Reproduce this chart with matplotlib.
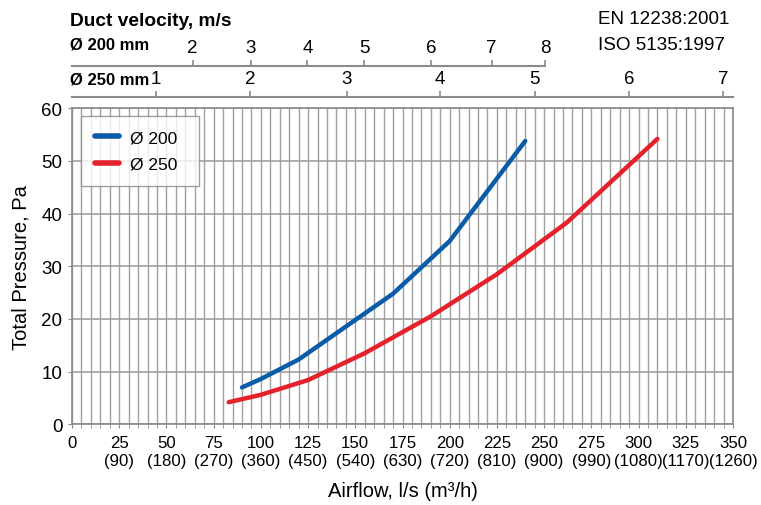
import matplotlib
matplotlib.use("Agg")
import matplotlib.pyplot as plt
from matplotlib.ticker import MultipleLocator

plt.rcParams['font.family'] = ['Liberation Sans', 'DejaVu Sans']

# Data (airflow l/s, total pressure Pa)
flow_200 = [90, 100, 120, 140, 170, 200, 240]
pres_200 = [7.0, 8.6, 12.3, 17.3, 24.8, 34.8, 53.8]
flow_250 = [83, 100, 125, 155, 190, 225, 262, 310]
pres_250 = [4.2, 5.6, 8.4, 13.5, 20.5, 28.5, 38.3, 54.2]

# bottom tick labels
x_ticks = [0, 25, 50, 75, 100, 125, 150, 175, 200, 225, 250, 275, 300, 325, 350]
m3h = [None, 90, 180, 270, 360, 450, 540, 630, 720, 810, 900, 990, 1080, 1170, 1260]

# duct velocity scales (position in l/s, label in m/s)
v200_pos = [63.9, 94.6, 124.6, 154.6, 190.0, 222.2, 250.7]
v200_lab = [2, 3, 4, 5, 6, 7, 8]
v250_pos = [44.3, 94.3, 145.4, 194.8, 245.1, 295.0, 344.8]
v250_lab = [1, 2, 3, 4, 5, 6, 7]

blue = '#0b5ca8'
red = '#e5212b'
grey = '#8a8a8a'
grid_c = '#a0a0a0'

fig = plt.figure(figsize=(7.61, 5.06), dpi=100)
W, H = 761, 506
x0, x1 = 72, 733
ax = fig.add_axes([x0 / W, 1 - 425.3 / H, (x1 - x0) / W, (425.3 - 109.3) / H])

ax.plot(flow_200, pres_200, color=blue, lw=3.2, solid_capstyle='round', label='Ø 200', zorder=3)
ax.plot(flow_250, pres_250, color=red, lw=3.2, solid_capstyle='round', label='Ø 250', zorder=3)

ax.set_xlim(0, 350)
ax.set_ylim(0, 60)
ax.xaxis.set_minor_locator(MultipleLocator(5))
ax.set_xticks(x_ticks)
ax.set_xticklabels([str(x) if m is None else '%d\n(%d)' % (x, m) for x, m in zip(x_ticks, m3h)],
                   fontsize=12.1, linespacing=1.18)
ax.set_yticks(range(0, 61, 10))
ax.tick_params(axis='y', labelsize=13.5, length=3, color=grey, pad=4)
ax.tick_params(axis='x', which='both', length=3, color=grey, pad=5)
ax.grid(True, which='both', axis='x', color=grid_c, lw=1)
ax.grid(True, which='major', axis='y', color=grid_c, lw=1.2)
ax.set_axisbelow(True)
for s in ax.spines.values():
    s.set_color(grey)
    s.set_linewidth(1.2)

ax.set_ylabel('Total Pressure, Pa', fontsize=14.5, labelpad=8)
ax.set_xlabel('Airflow, l/s (m³/h)', fontsize=14.5, labelpad=10)

leg = ax.legend(loc='upper left', bbox_to_anchor=(9 / 661, 0.975, 118 / 661, 0), mode='expand',
                fontsize=12.5, frameon=True, fancybox=False, edgecolor=grey, handlelength=1.4,
                borderpad=0.8, labelspacing=0.65, handletextpad=0.6, borderaxespad=0)
leg.get_frame().set_linewidth(1.0)
for ln in leg.get_lines():
    ln.set_linewidth(4)

# velocity scales on top
def vel_axis(y_px, pos, lab, right_lim):
    a = fig.add_axes([x0 / W, 1 - y_px / H, (x1 - x0) / W, 0.0001])
    a.set_xlim(0, 350)
    a.set_yticks([])
    for k in ['left', 'right', 'bottom']:
        a.spines[k].set_visible(False)
    a.spines['top'].set_color(grey)
    a.spines['top'].set_linewidth(1.5)
    a.spines['top'].set_bounds(0, right_lim)
    a.xaxis.tick_top()
    a.set_xticks(pos)
    a.set_xticklabels([str(v) for v in lab], fontsize=13.5)
    a.tick_params(axis='x', length=4, color=grey, width=1.2, pad=3)
    a.patch.set_visible(False)
    return a

vel_axis(66.7, v200_pos, v200_lab, 250.7)
vel_axis(97.7, v250_pos, v250_lab, 350)

fig.text(70 / W, 1 - 22 / H, 'Duct velocity, m/s', fontsize=13.8, fontweight='bold', va='center')
fig.text(70 / W, 1 - 45 / H, 'Ø 200 mm', fontsize=12, fontweight='bold', va='center')
fig.text(70 / W, 1 - 80 / H, 'Ø 250 mm', fontsize=12, fontweight='bold', va='center')
fig.text(598 / W, 1 - 20 / H, 'EN 12238:2001', fontsize=13.6, va='center')
fig.text(598 / W, 1 - 45 / H, 'ISO 5135:1997', fontsize=13.6, va='center')

fig.savefig('out.png', dpi=100)
